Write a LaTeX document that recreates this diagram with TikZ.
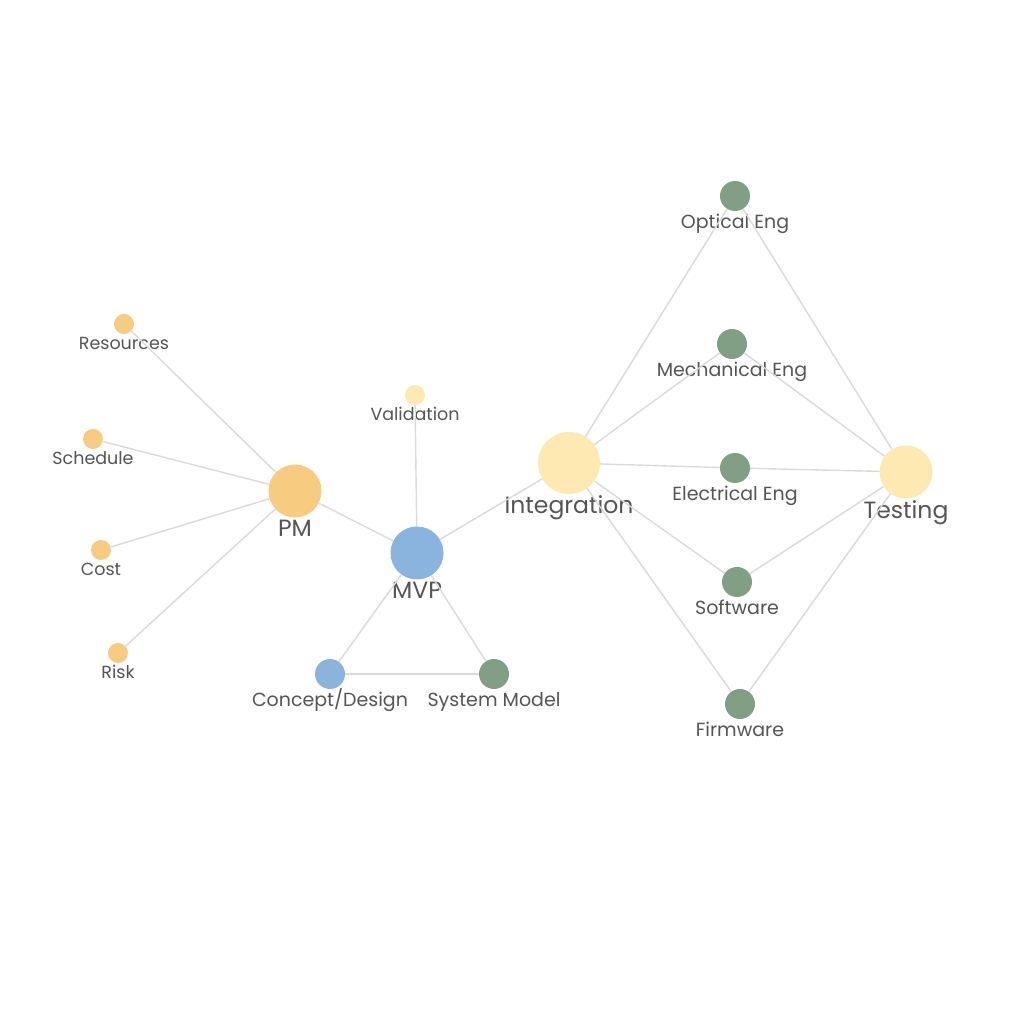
\documentclass[tikz,border=0pt]{standalone}
\usepackage{fontspec}
\setmainfont{Poppins}
\usepackage{xcolor}
\definecolor{pmOrange}{RGB}{248, 204, 128}
\definecolor{paleYellow}{RGB}{254, 233, 178}
\definecolor{mvpBlue}{RGB}{138, 180, 221}
\definecolor{engGreen}{RGB}{128, 159, 133}
\definecolor{edgeGrey}{RGB}{218, 218, 218}
\definecolor{labelGrey}{RGB}{85, 85, 85}

\begin{document}
\begin{tikzpicture}[x=1pt, y=1pt,
    dot/.style={circle, draw=none, inner sep=0pt},
    small/.style={dot, minimum size=20pt},
    mid/.style={dot, minimum size=30pt},
    big/.style={dot, minimum size=53pt},
    txt/.style={text=labelGrey, inner sep=0.5pt, text depth=5pt},
    lbl/.style={txt, text height=13pt, label distance=1.5pt, font=\fontsize{17.5}{17.5}\selectfont},
    midlbl/.style={txt, text height=14pt, label distance=2.5pt, font=\fontsize{19}{19}\selectfont},
    biglbl/.style={txt, text height=17pt, label distance=1.5pt, font=\fontsize{23.5}{23.5}\selectfont},
    link/.style={draw=edgeGrey, line width=1.4pt}]
    \useasboundingbox (0,0) rectangle (1024,1024);
    % project management side
    \node[small, fill=pmOrange, label={[lbl]below:Resources}] (resources) at (124,700) {};
    \node[small, fill=pmOrange, label={[lbl]below:Schedule}] (schedule) at (93,585) {};
    \node[small, fill=pmOrange, label={[lbl]below:Cost}] (cost) at (101,474) {};
    \node[small, fill=pmOrange, label={[lbl]below:Risk}] (risk) at (118,371) {};
    \node[big, fill=pmOrange, label={[biglbl]below:PM}] (pm) at (295,533) {};
    % mvp triangle
    \node[small, fill=paleYellow, label={[lbl]below:Validation}] (validation) at (415,629) {};
    \node[big, fill=mvpBlue, label={[biglbl]below:MVP}] (mvp) at (417,471) {};
    \node[mid, fill=mvpBlue, label={[midlbl]below:Concept/Design}] (concept) at (330,350) {};
    \node[mid, fill=engGreen, label={[midlbl]below:System Model}] (sysmodel) at (494,350) {};
    % integration and testing
    \node[big, minimum size=62pt, fill=paleYellow, label={[biglbl]below:Integration}] (integration) at (569,561) {};
    \node[big, fill=paleYellow, label={[biglbl, label distance=2.5pt]below:Testing}] (testing) at (906,552) {};
    \node[mid, fill=engGreen, label={[midlbl]below:Optical Eng}] (optical) at (735,828) {};
    \node[mid, fill=engGreen, label={[midlbl]below:Mechanical Eng}] (mechanical) at (732,680) {};
    \node[mid, fill=engGreen, label={[midlbl]below:Electrical Eng}] (electrical) at (735,556) {};
    \node[mid, fill=engGreen, label={[midlbl]below:Software}] (software) at (737,442) {};
    \node[mid, fill=engGreen, label={[midlbl]below:Firmware}] (firmware) at (740,320) {};
    % connectors
    \draw[link] (resources) -- (pm);
    \draw[link] (schedule) -- (pm);
    \draw[link] (cost) -- (pm);
    \draw[link] (risk) -- (pm);
    \draw[link] (pm) -- (mvp);
    \draw[link] (validation) -- (mvp);
    \draw[link] (mvp) -- (integration);
    \draw[link] (mvp) -- (concept);
    \draw[link] (mvp) -- (sysmodel);
    \draw[link] (concept) -- (sysmodel);
    \draw[link] (integration) -- (optical);
    \draw[link] (integration) -- (mechanical);
    \draw[link] (integration) -- (electrical);
    \draw[link] (integration) -- (software);
    \draw[link] (integration) -- (firmware);
    \draw[link] (optical) -- (testing);
    \draw[link] (mechanical) -- (testing);
    \draw[link] (electrical) -- (testing);
    \draw[link] (software) -- (testing);
    \draw[link] (firmware) -- (testing);
\end{tikzpicture}
\end{document}
